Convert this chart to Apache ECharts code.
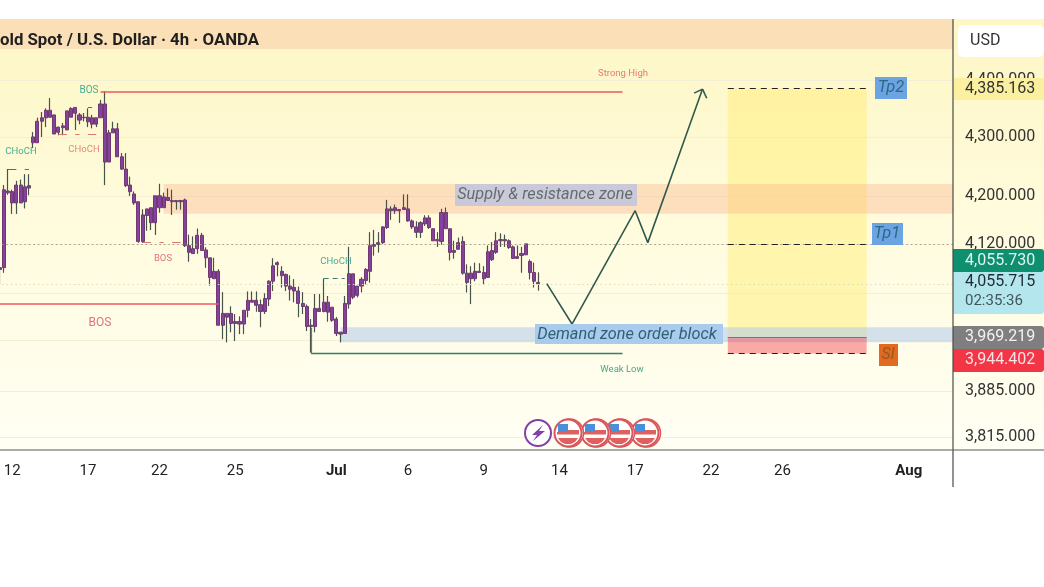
<!DOCTYPE html>
<html><head><meta charset="utf-8">
<style>html,body{margin:0;padding:0;background:#fff}#c{width:1044px;height:587px}</style>
<script src="https://cdn.jsdelivr.net/npm/echarts@6/dist/echarts.min.js"></script>
</head><body><div id="c"></div>
<script>
const opens=[4082,4082,4209,4208,4189,4219,4191,4214,4291,4291,4328,4334,4347,4339,4309,4317,4313,4335,4352,4339,4334,4335,4334,4323,4334,4358,4258,4308,4315,4267,4246,4219,4204,4191,4125,4168,4181,4156,4201,4181,4198,4193,4191,4193,4194,4118,4105,4113,4135,4111,4098,4064,4076,3989,4008,4008,3992,3995,3991,4013,4029,4029,4022,4011,4031,4060,4090,4076,4071,4052,4050,4044,4024,4019,3987,3987,4016,4011,4026,4018,3999,3978,3976,4023,4072,4037,4052,4061,4076,4117,4120,4123,4148,4179,4176,4178,4178,4179,4159,4149,4140,4154,4164,4146,4126,4125,4173,4146,4107,4112,4125,4073,4064,4064,4076,4074,4066,4095,4107,4126,4128,4126,4116,4097,4102,4103,4092,4074,4058];
const closes=[4079,4211,4206,4189,4219,4189,4216,4218,4301,4328,4334,4347,4335,4306,4318,4320,4346,4350,4342,4330,4335,4327,4323,4334,4358,4258,4308,4315,4267,4246,4218,4208,4189,4125,4169,4179,4156,4201,4181,4199,4193,4191,4193,4191,4118,4107,4113,4135,4110,4098,4066,4076,3989,4008,4002,3992,3995,3991,4013,4029,4026,4021,4011,4032,4060,4085,4087,4069,4052,4047,4044,4024,4019,3987,3989,4016,4011,4026,4010,3997,3976,3975,4024,4072,4034,4052,4063,4079,4118,4120,4123,4149,4179,4176,4181,4176,4181,4159,4149,4140,4156,4164,4148,4126,4128,4173,4146,4107,4110,4123,4073,4058,4073,4076,4074,4064,4108,4110,4126,4128,4126,4115,4097,4100,4105,4121,4074,4060,4055.715];
const lows=[4055,4074,4203,4171,4171,4189,4180,4202,4282,4291,4301,4318,4334,4306,4304,4304,4313,4335,4313,4323,4328,4318,4316,4318,4334,4219,4258,4308,4267,4245,4216,4201,4186,4123,4123,4143,4144,4136,4173,4181,4193,4169,4178,4178,4116,4092,4105,4105,4110,4082,4053,4064,3989,3967,3962,3978,3964,3975,3975,4002,4026,4011,3986,4007,4020,4044,4068,4050,4044,4029,4026,4002,4007,3980,3946,3978,4011,4010,3995,3995,3972,3962,3976,4016,4031,4034,4042,4055,4058,4102,4107,4121,4146,4161,4171,4156,4178,4158,4146,4131,4131,4151,4146,4126,4116,4120,4146,4094,4097,4112,4071,4042,4023,4060,4074,4055,4066,4093,4105,4116,4116,4113,4097,4097,4074,4103,4063,4050,4045];
const highs=[4082,4219,4246,4211,4226,4228,4237,4237,4309,4334,4344,4350,4368,4339,4318,4325,4346,4352,4352,4342,4342,4350,4339,4334,4365,4380,4313,4327,4325,4273,4273,4233,4208,4191,4178,4179,4181,4201,4221,4206,4213,4211,4193,4194,4196,4136,4133,4146,4139,4115,4098,4098,4079,4042,4008,4019,4007,4003,4013,4043,4043,4043,4030,4040,4061,4097,4092,4084,4072,4069,4063,4051,4042,4022,3999,4039,4039,4064,4036,4018,4002,3978,4036,4116,4072,4052,4066,4081,4140,4144,4140,4150,4194,4183,4186,4178,4203,4203,4161,4158,4158,4168,4168,4146,4140,4179,4181,4146,4126,4131,4133,4087,4084,4090,4089,4084,4118,4124,4140,4138,4136,4128,4118,4118,4116,4121,4095,4090,4074];
const tickLabels=['12','17','22','25','Jul','6','9','14','17','22','26','Aug'];
const tickBars=[3,21,38,56,80,97,115,133,151,169,186,216];
const monthLabels=['Jul','Aug'];
const priceTicks=[4400,4300,4200,4120,4040,3965,3885,3815];
const projBars=[130,136,151,154,167];
const projPrices=[4056,3991,4176,4123,4384];
const tp2=4385.163,tp1=4120,entry=3969.219,sl=3944.402,last=4055.715;
const supply=[4221,4171], demand=[3986,3962];
const BAR_COUNT=227;
const categories=Array.from({length:BAR_COUNT},(_,i)=>{const k=tickBars.indexOf(i);return k>=0?tickLabels[k]:String(i);});

const fmt=v=>v.toFixed(3).replace(/^(\d)(\d{3})/,'$1,$2');
const font='Roboto';
const rect=(x,y,w,h,fill,z,r)=>({type:'rect',shape:{x,y,width:w,height:h,r:r||0},style:{fill},z,silent:true});
const text=(x,y,t,f,fill,z,al)=>({type:'text',x,y:y+1,z:z||60,silent:true,style:{text:t,font:f,fill,align:al||'center',verticalAlign:'middle',textAlign:al||'center',textVerticalAlign:'middle'}});
const hline=(x1,y1,x2,y2,c,w)=>({type:'line',shape:{x1,y1,x2,y2},style:{stroke:c,lineWidth:w||1},z:70,silent:true});

function flag(cx,cy,z){return {type:'group',x:cx,y:cy,children:[
 {type:'circle',shape:{cx:1.5,cy:0,r:14},style:{fill:'#fff',stroke:'#d9575a',lineWidth:1.5},z,silent:true},
 {type:'circle',shape:{cx:0,cy:0,r:13.5},style:{fill:'#fff',stroke:'#d9575a',lineWidth:2},z,silent:true},
 {type:'rect',shape:{x:-10,y:-9,width:10,height:8},style:{fill:'#4a90d9'},z,silent:true},
 {type:'rect',shape:{x:0,y:-3,width:11,height:4.5},style:{fill:'#e06060'},z,silent:true},
 {type:'rect',shape:{x:-11,y:-1,width:11,height:2.5},style:{fill:'#e06060'},z,silent:true},
 {type:'polygon',shape:{points:[[-10,5],[10,5],[7,9],[3,11],[-3,11],[-7,9]]},style:{fill:'#e06060'},z,silent:true}
]};}

const graphics=[
 {type:'rect',shape:{x:0,y:19,width:1044,height:431},z:-5,silent:true,
  style:{fill:{type:'linear',x:0,y:0,x2:0,y2:1,colorStops:[{offset:0,color:'#fef6c4'},{offset:.45,color:'#fffbdc'},{offset:1,color:'#fffff4'}]}}},
 rect(0,19,953,30,'#fbdfb6',-4),
 text(0,39.5,'old Spot / U.S. Dollar · 4h · OANDA','bold 16.8px '+font,'#1f1f1f',60,'left'),
 hline(953,19,953,487,'#4a4a4a',1.2),
 hline(0,450,1044,450,'#5a5a5a',1.2),
 rect(958,25,86,32,'#ffffff',50,5),
 text(970,40,'USD','16px '+font,'#333',60,'left'),
 rect(953,78,91,22,'#fbf0a0',50),
 text(965,88,fmt(tp2),'16px '+font,'#333',60,'left'),
 rect(953,249,91,23,'#0e8f70',50,[0,3,3,0]),
 text(965,260,fmt(4055.730),'16px '+font,'#dff7ee',60,'left'),
 rect(953,272,91,42,'#b4e6ee',50,[0,0,3,0]),
 text(965,281,fmt(last),'16px '+font,'#1f2d33',60,'left'),
 text(965,300,'02:35:36','15px '+font,'#40565c',60,'left'),
 rect(953,326,91,23,'#7f7f7f',50,[0,3,3,0]),
 text(965,336,fmt(entry),'16px '+font,'#f2f2f2',60,'left'),
 rect(953,349,91,23,'#f23645',50,[0,3,3,0]),
 text(965,359,fmt(sl),'16px '+font,'#fde3e5',60,'left'),
 rect(455,184,182,22,'#cbc8da',40),
 text(545,194,'Supply & resistance zone','italic 16.3px '+font,'#5f6f6a',60),
 rect(535,324,188,20,'#a9ccee',40),
 text(627,333.5,'Demand zone order block','italic 16.3px '+font,'#2f6072',60),
 rect(875,77,32,22,'#6ba3e3',40),
 text(891,87,'Tp2','italic 16.5px '+font,'#2b6a84',60),
 rect(872,223,31,22,'#6ba3e3',40),
 text(887,233,'Tp1','italic 16.5px '+font,'#2b6a84',60),
 rect(879,344,19,22,'#e2691f',40),
 text(888,354,'Sl','italic 16px '+font,'#8f5d22',60),
 text(89,89,'BOS','10px '+font,'#45ad92',60),
 text(21,151,'CHoCH','9.5px '+font,'#45ad92',60),
 text(84,149,'CHoCH','9.5px '+font,'#e08c78',60),
 text(163,258,'BOS','9.5px '+font,'#dd7480',60),
 text(100,322,'BOS','12px '+font,'#dd7480',60),
 text(336,261,'CHoCH','9.5px '+font,'#45ad92',60),
 text(623,73,'Strong High','9.5px '+font,'#e57a78',60),
 text(622,369,'Weak Low','9.5px '+font,'#4aa58a',60),
 flag(645,433,30),flag(619,433,31),flag(595,433,32),flag(568,433,33),
 {type:'circle',shape:{cx:538,cy:433,r:13},style:{fill:'#fff',stroke:'#8440a8',lineWidth:2},z:34,silent:true},
 {type:'polygon',shape:{points:[[543,425],[532,435],[537,435],[533,441],[545,431],[539,431]]},style:{fill:'#8440a8'},z:35,silent:true}
];

const ln=(c,w,t)=>({color:c,width:w||1,type:t||'solid'});
const seg=(a,b,c,d,style)=>[{xAxis:a,yAxis:b,lineStyle:style},{xAxis:c,yAxis:d}];
const red=ln('#ea5a62',1.5), green=ln('#2f8068',1.3);
const gd=ln('#3c7d6a',1,[5,4]), bk=ln('#222',1,[6,5]);
const area=(a,b,c,d,col)=>[{xAxis:a,yAxis:b,itemStyle:{color:col}},{xAxis:c,yAxis:d}];
const snap=x=>{const d=Math.round(x*2);return (d+1)%2===0?d/2:(d-1)/2;};

const option={
 animation:false,backgroundColor:'#ffffff',
 textStyle:{fontFamily:font},
 grid:{left:-2.6,right:91,top:19,bottom:137,outerBoundsMode:'none'},
 xAxis:{type:'category',data:categories,boundaryGap:true,
  axisLine:{show:false},axisTick:{show:false},splitLine:{show:false},
  axisLabel:{interval:i=>tickBars.includes(i),margin:14,fontSize:15,fontFamily:font,color:'#222',hideOverlap:false,
   formatter:v=>monthLabels.includes(v)?'{b|'+v+'}':v,rich:{b:{fontWeight:'bold',fontSize:15,fontFamily:font,color:'#222'}}}},
 yAxis:{type:'log',position:'right',min:3795,max:4508.6,logBase:10,
  axisLine:{show:false},axisTick:{show:false,customValues:priceTicks},
  splitLine:{show:true,lineStyle:{color:'#f3eed6',width:1}},minorSplitLine:{show:false},
  axisLabel:{customValues:priceTicks,margin:12,fontSize:16,fontFamily:font,color:'#333',formatter:v=>fmt(Number(v))}},
 graphic:{elements:graphics},
 series:[
  {type:'line',name:'zones',data:[],z:1,silent:true,
   markArea:{silent:true,data:[
    area(173,tp2,206,entry,'rgba(255,237,120,.5)'),
    [{xAxis:39,yAxis:supply[0],itemStyle:{color:'rgba(249,180,140,.38)'}},{yAxis:supply[1]}],
    [{xAxis:81,yAxis:demand[0],itemStyle:{color:'rgba(170,198,235,.5)'}},{yAxis:demand[1]}],
    area(173,entry,206,sl,'rgba(242,54,69,.42)')
   ]},
   markLine:{silent:true,symbol:'none',label:{show:false},data:[
    {yAxis:tp1,lineStyle:ln('#a39a80',1,[1.5,3])},
    {yAxis:last,lineStyle:ln('#d3dcc2',1,[1.5,3])}
   ]}},
  {type:'candlestick',name:'XAUUSD',z:3,barWidth:3.6,
   data:opens.map((o,i)=>[o,closes[i],lows[i],highs[i]]),
   itemStyle:{color:'#86409f',color0:'#86409f',borderColor:'#6f3a70',borderColor0:'#6f3a70',borderWidth:1}},
  {type:'custom',name:'wicks',z:4,silent:true,clip:true,
   data:opens.map((o,i)=>[i,lows[i],highs[i],Math.min(o,closes[i]),Math.max(o,closes[i])]),
   encode:{x:0,y:[1,2]},
   renderItem:(p,api)=>{
    const x=snap(api.coord([api.value(0),api.value(1)])[0]);
    const y=v=>api.coord([api.value(0),v])[1];
    const st={stroke:'#46544a',lineWidth:1.2};
    return {type:'group',children:[
     {type:'line',shape:{x1:x,y1:y(api.value(2)),x2:x,y2:y(api.value(4))},style:st},
     {type:'line',shape:{x1:x,y1:y(api.value(3)),x2:x,y2:y(api.value(1))},style:st}
    ]};
   }},
  {type:'line',name:'projection',z:5,silent:true,symbol:'none',
   data:projBars.map((b,i)=>[b,projPrices[i]]),
   lineStyle:{color:'#2f5a4c',width:1.6},
   markLine:{silent:true,symbol:'none',label:{show:false},data:[
    seg(167,4384,165,4377,ln('#2f5a4c',1.6)),
    seg(167,4384,168,4368,ln('#2f5a4c',1.6)),
    seg(24,4380,148,4380,red),
    seg(0,4024,52,4024,red),
    seg(74,3945,148,3945,green),
    seg(74,3945,74,3985,ln('#6b7d72',1.2)),
    seg(173,tp2,206,tp2,bk),
    seg(173,tp1,206,tp1,bk),
    seg(173,sl,206,sl,bk),
    seg(173,entry,206,entry,ln('#777',1)),
    seg(2,4245,4,4245,ln('#3c7d6a',1)),
    seg(6,4245,7,4245,ln('#3c7d6a',1)),
    seg(21,4353,22,4353,ln('#3c7d6a',1)),
    seg(14,4306,16,4306,ln('#d97a72',1)),seg(18,4306,19,4306,ln('#d97a72',1)),seg(21,4306,23,4306,ln('#d97a72',1)),
    seg(34,4123,36,4123,ln('#d97a72',1)),seg(38,4123,39,4123,ln('#d97a72',1)),seg(41,4123,43,4123,ln('#d97a72',1)),
    seg(77,4064,82,4064,gd)
   ]}}
 ]
};
const chart=echarts.init(document.getElementById('c'),null,{renderer:'canvas'});
chart.setOption(option);
</script></body></html>
